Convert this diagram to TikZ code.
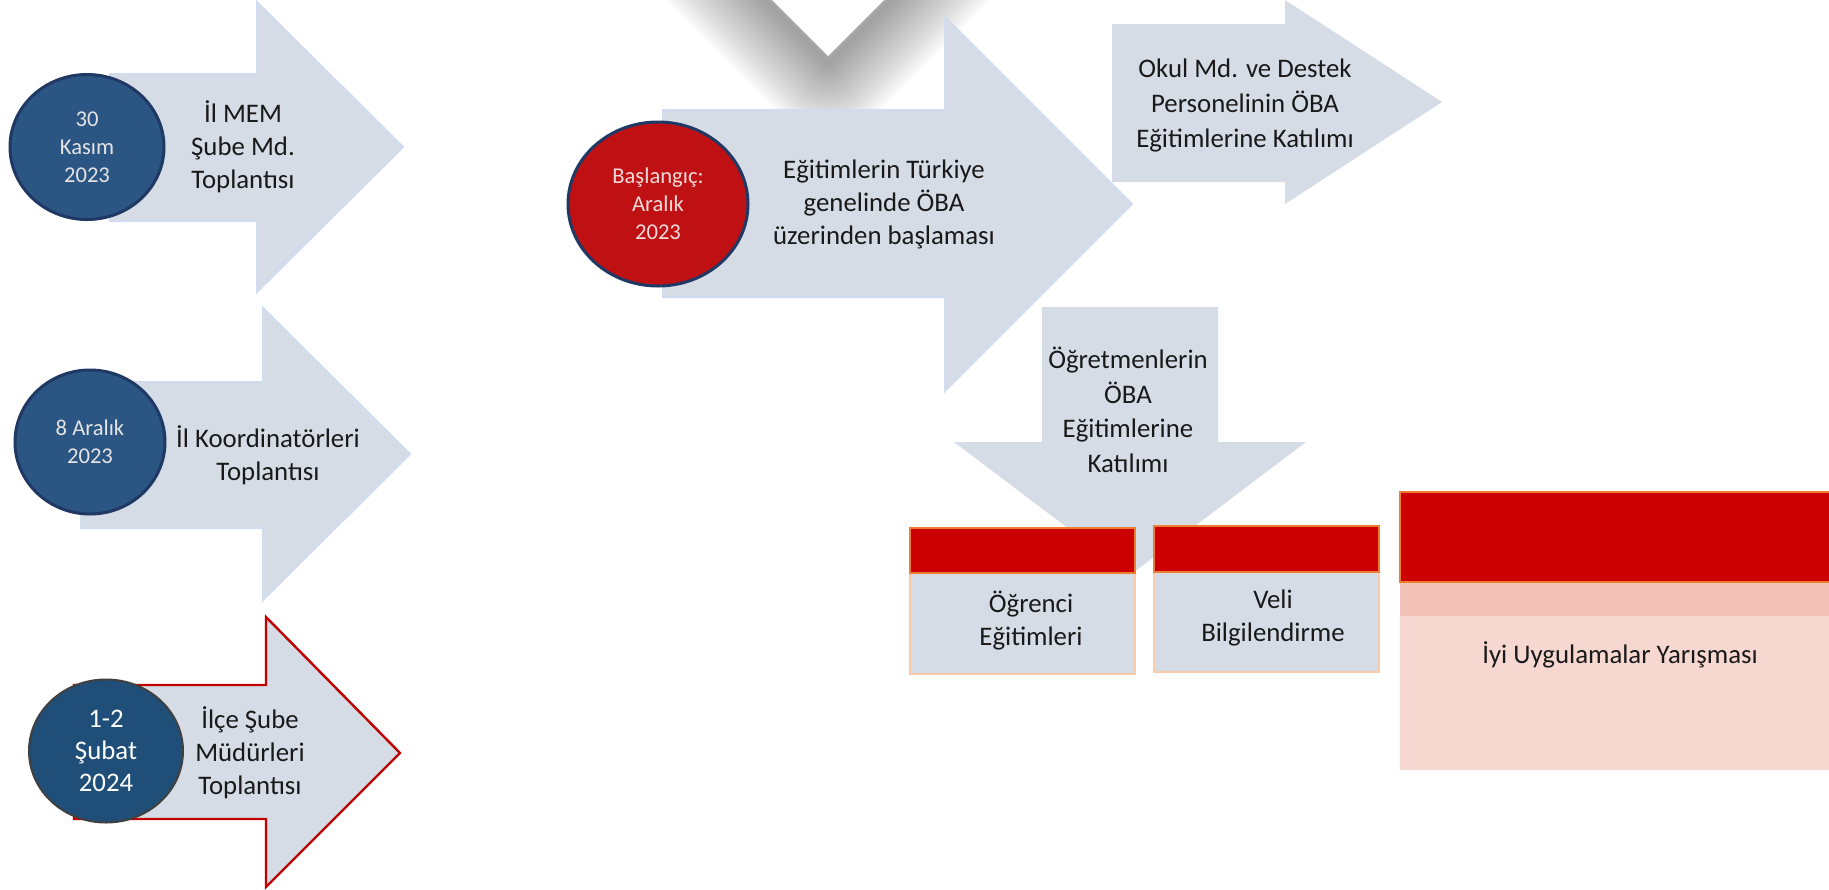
\documentclass[tikz,border=0pt]{standalone}
\usepackage{fontspec}
\setmainfont{Carlito}
\usepackage{xcolor}
\usepackage{tikz}
\usetikzlibrary{shapes.geometric}

\definecolor{arrowgray}{HTML}{D6DCE5}
\definecolor{arrowrim}{HTML}{D2DCF0}
\definecolor{datenavy}{HTML}{2B5582}
\definecolor{datedark}{HTML}{1F4E79}
\definecolor{rimnavy}{HTML}{1F3864}
\definecolor{startred}{HTML}{BF1114}
\definecolor{headred}{HTML}{CC0000}
\definecolor{rimorange}{HTML}{ED7D31}
\definecolor{rimpeach}{HTML}{F8CBAD}
\definecolor{bandpink}{HTML}{F2C2B9}
\definecolor{bodypink}{HTML}{F6D8D1}
\definecolor{paletext}{HTML}{E4E4E4}
\definecolor{pinktext}{HTML}{F4DADA}
\definecolor{outlinered}{HTML}{C00000}

\begin{document}
\begin{tikzpicture}[x=0.5pt, y=-0.5pt,
    every node/.style={font=\fontsize{13.4}{16.5}\selectfont, align=center, text=black!90},
    datebubble/.style={ellipse, inner sep=0pt, line width=1.5pt, font=\fontsize{11.3}{14}\selectfont},
    blockarrow/.style={fill=arrowgray, draw=arrowrim, line width=1pt}]

    \useasboundingbox (0,0) rectangle (1829,889);

    % Soft shadow of the arrow tip coming in from the top
    \foreach \w in {2.5,5,...,70} {
        \draw[black, opacity=0.016, line width=\w pt, line join=round] (618,-146) -- (828,64) -- (1038,-146) -- cycle;
    }
    \fill[white] (628,-144) -- (828,56) -- (1028,-144) -- cycle;

    % Draw the three meeting arrows on the left
    \draw[blockarrow] (110,74) -- (257,74) -- (257,2) -- (403,147) -- (257,292) -- (257,221) -- (110,221) -- cycle;
    \draw[blockarrow] (81,382) -- (263,382) -- (263,308) -- (410,454) -- (263,600) -- (263,528) -- (81,528) -- cycle;
    \draw[blockarrow, draw=outlinered, line width=1.2pt] (74,685) -- (266,685) -- (266,617) -- (400,753) -- (266,887) -- (266,819) -- (74,819) -- cycle;

    % Draw the start arrow and the two arrows that follow it
    \draw[blockarrow] (663,110) -- (945,110) -- (945,17) -- (1132,204) -- (945,391) -- (945,297) -- (663,297) -- cycle;
    \fill[arrowgray] (1112,24) -- (1285,24) -- (1285,0) -- (1442,102) -- (1285,204) -- (1285,182) -- (1112,182) -- cycle;
    \fill[arrowgray] (1042,307) -- (1218,307) -- (1218,442) -- (1306,442) -- (1130,575) -- (954,442) -- (1042,442) -- cycle;

    % Date bubbles
    \node[datebubble, fill=datenavy, draw=rimnavy, text=paletext, minimum width=77pt, minimum height=72.5pt] (kasim) at (87,147) {30\\Kasım\\2023};
    \node[datebubble, fill=datenavy, draw=rimnavy, text=paletext, minimum width=75pt, minimum height=72pt] (aralik) at (90,442) {8 Aralık\\2023};
    \node[datebubble, fill=datedark, draw=black!75, line width=1pt, text=white, font=\fontsize{13.4}{16}\selectfont, minimum width=77pt, minimum height=71.5pt] (subat) at (106,751) {1-2\\Şubat\\2024};
    \node[datebubble, fill=startred, draw=rimnavy, text=pinktext, minimum width=90pt, minimum height=82pt] (baslangic) at (658,204) {Başlangıç:\\Aralık\\2023};

    % Arrow texts
    \node (ilmem) at (243,147) {İl MEM\\Şube Md.\\Toplantısı};
    \node (ilkoord) at (268,455) {İl Koordinatörleri\\Toplantısı};
    \node (ilcesube) at (250,753) {İlçe Şube\\Müdürleri\\Toplantısı};
    \node (genel) at (884,204) {Eğitimlerin Türkiye\\genelinde ÖBA\\üzerinden başlaması};
    \node[font=\fontsize{13.4}{17.5}\selectfont] (okulmd) at (1245,105) {Okul Md. ve Destek\\Personelinin ÖBA\\Eğitimlerine Katılımı};
    \node[font=\fontsize{13.4}{17.3}\selectfont] (ogretmen) at (1128,410) {Öğretmenlerin\\ÖBA\\Eğitimlerine\\Katılımı};

    % Draw the result boxes under the arrows
    \draw[fill=arrowgray, draw=rimpeach, line width=0.7pt] (910,573) rectangle (1135,674);
    \draw[fill=headred, draw=rimorange, line width=0.7pt] (910,528) rectangle (1135,573);
    \node (ogrenci) at (1031,621) {Öğrenci\\Eğitimleri};

    \draw[fill=arrowgray, draw=rimpeach, line width=0.7pt] (1154,572) rectangle (1379,672);
    \draw[fill=headred, draw=rimorange, line width=0.7pt] (1154,526) rectangle (1379,572);
    \node (veli) at (1273,618) {Veli\\Bilgilendirme};

    \fill[bodypink] (1400,616) rectangle (1840,770);
    \fill[bandpink] (1400,582) rectangle (1840,616);
    \draw[fill=headred, draw=rimorange, line width=0.7pt] (1400,492) rectangle (1840,582);
    \node (yarisma) at (1620,655) {İyi Uygulamalar Yarışması};
\end{tikzpicture}
\end{document}
